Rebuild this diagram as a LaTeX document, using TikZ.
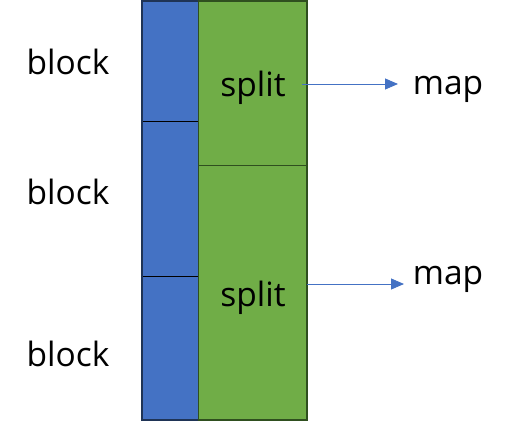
\documentclass[tikz,border=0pt]{standalone}
\usepackage{fontspec}
\setmainfont{Open Sans}
\usetikzlibrary{arrows.meta}
\definecolor{cblue}{HTML}{4472C4}
\definecolor{cgreen}{HTML}{70AD47}
\definecolor{bblue}{HTML}{1F3456}
\definecolor{bgreen}{HTML}{2F4F1F}
\tikzset{
  lbl/.style={font=\fontsize{33.5}{36}\selectfont, inner sep=0pt, anchor=center},
  arr/.style={draw=cblue, line width=0.9pt, -{Triangle[length=13pt,width=11pt]}},
}
\begin{document}
\begin{tikzpicture}[x=1pt,y=-1pt]
\useasboundingbox (0,0) rectangle (508,422);
% blue column
\fill[cblue] (142,1) rectangle (198.5,420);
\draw[black, line width=0.8pt] (142,121) -- (198.5,121);
\draw[black, line width=0.8pt] (142,276) -- (198.5,276);
\draw[bblue, line width=1.3pt] (142,1) rectangle (198.5,420);
% green column
\fill[cgreen] (198.5,1) rectangle (307,420);
\draw[bgreen, line width=1.7pt] (198.5,165.5) -- (307,165.5);
\draw[bgreen, line width=1.5pt] (198.5,1) rectangle (307,420);
% labels
\node[lbl] (b1) at (68,62) {block};
\node[lbl] (b2) at (68,192) {block};
\node[lbl] (b3) at (68,354) {block};
\node[lbl] (s1) at (253,88) {split};
\node[lbl] (s2) at (253,298) {split};
\node[lbl] (m1) at (448,89) {map};
\node[lbl] (m2) at (448,279) {map};
\coordinate (a1s) at (302,84);
\coordinate (a1e) at (398,84);
\coordinate (a2s) at (307,284);
\coordinate (a2e) at (404,284);
\draw[arr] (a1s) -- (a1e);
\draw[arr] (a2s) -- (a2e);
\end{tikzpicture}
\end{document}
